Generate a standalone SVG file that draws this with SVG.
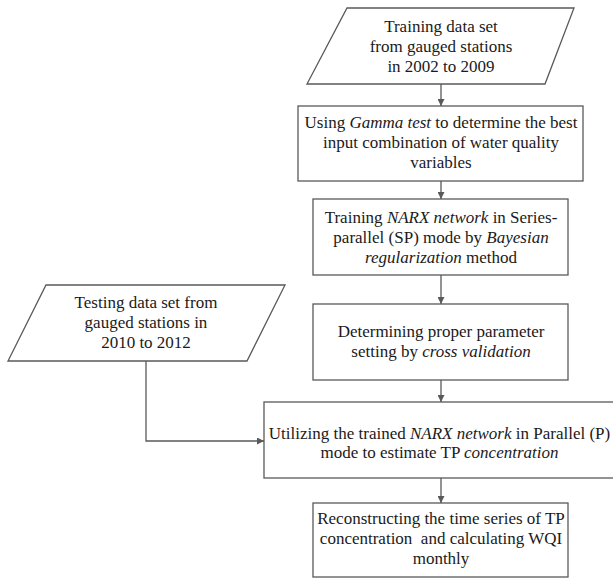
<svg xmlns="http://www.w3.org/2000/svg" width="613" height="579" viewBox="0 0 613 579">
<defs>
<style>
.shape{fill:#ffffff;stroke:#595959;stroke-width:1.3}
.conn{fill:none;stroke:#595959;stroke-width:1.3}
.t text{font-size:17px;fill:#1a1a1a;text-anchor:middle}
.i{font-style:italic}
</style>
<marker id="arr" viewBox="0 0 10 10" refX="10" refY="5" markerWidth="7" markerHeight="7" markerUnits="userSpaceOnUse" orient="auto">
<path d="M0,0 L10,5 L0,10 z" fill="#595959"/>
</marker>
</defs>
<rect width="613" height="579" fill="#ffffff"/>
<g id="connectors">
<line class="conn" x1="441" y1="84" x2="441" y2="106" marker-end="url(#arr)"/>
<line class="conn" x1="441" y1="181" x2="441" y2="199" marker-end="url(#arr)"/>
<line class="conn" x1="441" y1="275" x2="441" y2="304" marker-end="url(#arr)"/>
<line class="conn" x1="441" y1="380" x2="441" y2="402" marker-end="url(#arr)"/>
<line class="conn" x1="441" y1="478" x2="441" y2="503" marker-end="url(#arr)"/>
<polyline class="conn" points="146,361 146,441 264,441" marker-end="url(#arr)"/>
</g>
<g class="t" font-family="Liberation Serif, Times New Roman, Times, serif">
<g id="training-data">
<polygon class="shape" points="347,8 574,8 545,84 307,84"/>
<text x="441" y="32">Training data set</text>
<text x="441" y="52">from gauged stations</text>
<text x="441" y="72">in 2002 to 2009</text>
</g>
<g id="gamma-test">
<rect class="shape" x="298" y="106" width="285" height="75"/>
<text x="441" y="128">Using <tspan class="i">Gamma test</tspan> to determine the best</text>
<text x="441" y="148">input combination of water quality</text>
<text x="441" y="168">variables</text>
</g>
<g id="narx-training">
<rect class="shape" x="313" y="199" width="255" height="76"/>
<text x="441" y="223">Training <tspan class="i">NARX network</tspan> in Series-</text>
<text x="441" y="243">parallel (SP) mode by <tspan class="i">Bayesian</tspan></text>
<text x="441" y="263"><tspan class="i">regularization</tspan> method</text>
</g>
<g id="cross-validation">
<rect class="shape" x="313" y="304" width="255" height="76"/>
<text x="441" y="337">Determining proper parameter</text>
<text x="441" y="357">setting by <tspan class="i">cross validation</tspan></text>
</g>
<g id="testing-data">
<polygon class="shape" points="46,285 285,285 247,361 8,361"/>
<text x="146" y="308">Testing data set from</text>
<text x="146" y="328">gauged stations in</text>
<text x="146" y="348">2010 to 2012</text>
</g>
<g id="narx-parallel">
<rect class="shape" x="264" y="402" width="352" height="76"/>
<text x="439.5" y="439">Utilizing the trained <tspan class="i">NARX network</tspan> in Parallel (P)</text>
<text x="439.5" y="458">mode to estimate TP <tspan class="i">concentration</tspan></text>
</g>
<g id="reconstruct">
<rect class="shape" x="313" y="503" width="255" height="74"/>
<text x="441" y="524">Reconstructing the time series of TP</text>
<text x="441" y="544" xml:space="preserve">concentration  and calculating WQI</text>
<text x="441" y="564">monthly</text>
</g>
</g>
</svg>
